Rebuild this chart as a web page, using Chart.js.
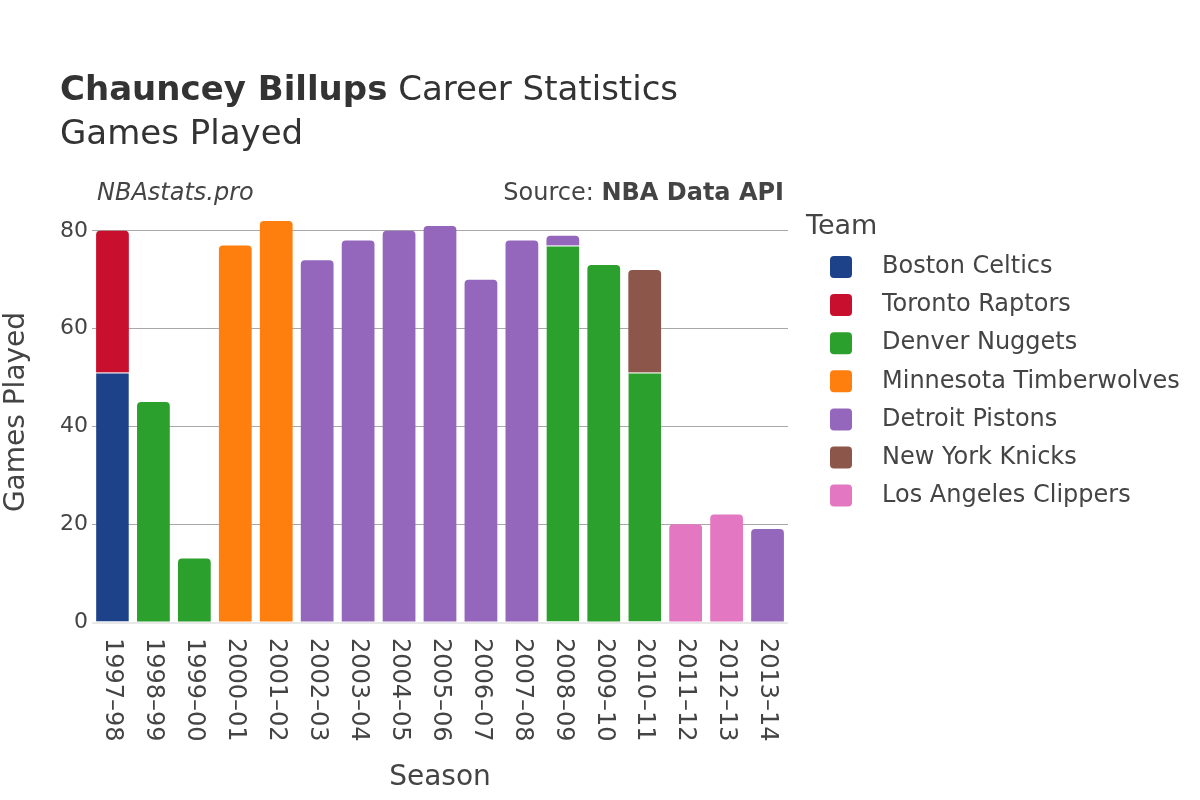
<!DOCTYPE html>
<html><head><meta charset="utf-8">
<script src="https://cdn.jsdelivr.net/npm/chart.js@4/dist/chart.umd.min.js"></script>
<style>html,body{margin:0;padding:0;background:#fff}canvas{display:block}</style>
</head><body>
<canvas id="c" width="1200" height="800"></canvas>
<script>
const seasons = ['1997–98','1998–99','1999–00','2000–01','2001–02','2002–03','2003–04','2004–05','2005–06','2006–07','2007–08','2008–09','2009–10','2010–11','2011–12','2012–13','2013–14'];
const teams = ['Boston Celtics','Toronto Raptors','Denver Nuggets','Minnesota Timberwolves','Detroit Pistons','New York Knicks','Los Angeles Clippers'];
const teamColors = ['#1d428a','#c8102e','#2ca02c','#ff7f0e','#9467bd','#8c564b','#e377c2'];
const bostonCeltics       = [51,null,null,null,null,null,null,null,null,null,null,null,null,null,null,null,null];
const torontoRaptors      = [29,null,null,null,null,null,null,null,null,null,null,null,null,null,null,null,null];
const denverNuggets       = [null,45,13,null,null,null,null,null,null,null,null,77,73,51,null,null,null];
const minnesotaTimberwolves = [null,null,null,77,82,null,null,null,null,null,null,null,null,null,null,null,null];
const detroitPistons      = [null,null,null,null,null,74,78,80,81,70,78,2,null,null,null,null,19];
const newYorkKnicks       = [null,null,null,null,null,null,null,null,null,null,null,null,null,21,null,null,null];
const losAngelesClippers  = [null,null,null,null,null,null,null,null,null,null,null,null,null,null,20,22,null];
const yTicks = [0,20,40,60,80];

const seriesValues = [bostonCeltics,torontoRaptors,denverNuggets,minnesotaTimberwolves,detroitPistons,newYorkKnicks,losAngelesClippers];
const FONT = "'DejaVu Sans', sans-serif";
const TXT = '#444';

function isTop(di, idx){
  for (let k = di+1; k < seriesValues.length; k++){
    const v = seriesValues[k][idx];
    if (v !== null && v > 0) return false;
  }
  return true;
}

const datasets = teams.map((t,i)=>({
  label: t,
  data: seriesValues[i],
  backgroundColor: teamColors[i],
  borderColor: '#ffffff',
  borderWidth: (ctx)=> isTop(ctx.datasetIndex, ctx.dataIndex) ? 0 : {top:1,left:0,right:0,bottom:0},
  borderSkipped: 'start',
  borderRadius: (ctx)=> isTop(ctx.datasetIndex, ctx.dataIndex) ? {topLeft:4,topRight:4,bottomLeft:0,bottomRight:0} : 0,
  categoryPercentage: 1.0,
  barPercentage: 0.8
}));

const textPlugin = {
  id: 'texts',
  afterDatasetsDraw(chart){
    const ctx = chart.ctx, ca = chart.chartArea;
    const ys = chart.scales.y;
    const y0 = ys.getPixelForValue(0);
    ctx.save();
    ctx.strokeStyle = '#e8e8e8';
    ctx.lineWidth = 2;
    ctx.beginPath();
    ctx.moveTo(ca.left, y0+1);
    ctx.lineTo(ca.right, y0+1);
    ctx.stroke();
    ctx.restore();
  },
  afterDraw(chart){
    const ctx = chart.ctx, ca = chart.chartArea;
    const xs = chart.scales.x;
    ctx.save();
    ctx.fillStyle = '#333';
    ctx.textBaseline = 'alphabetic';
    ctx.textAlign = 'left';
    // title
    ctx.font = "bold 34px " + FONT;
    ctx.fillText('Chauncey Billups', 60, 100);
    const w = ctx.measureText('Chauncey Billups').width;
    ctx.font = "34px " + FONT;
    ctx.fillText(' Career Statistics', 60 + w, 100);
    ctx.fillText('Games Played', 60, 144);
    // watermark / source
    ctx.fillStyle = TXT;
    ctx.font = "italic 24px " + FONT;
    ctx.fillText('NBAstats.pro', 97, 200);
    ctx.textAlign = 'right';
    ctx.font = "bold 24px " + FONT;
    ctx.fillText('NBA Data API', 784, 200);
    const bw = ctx.measureText('NBA Data API').width;
    ctx.font = "24px " + FONT;
    ctx.fillText('Source: ', 784 - bw, 200);
    // x tick labels rotated clockwise
    ctx.font = "24px " + FONT;
    ctx.textAlign = 'left';
    ctx.textBaseline = 'middle';
    seasons.forEach((s,i)=>{
      const x = xs.getPixelForValue(i);
      ctx.save();
      ctx.translate(x, ca.bottom + 16);
      ctx.rotate(Math.PI/2);
      ctx.fillText(s, 0, 0);
      ctx.restore();
    });
    // axis titles
    ctx.font = "28px " + FONT;
    ctx.textAlign = 'center';
    ctx.fillText('Season', (ca.left+ca.right)/2, 778);
    ctx.save();
    ctx.translate(17, (ca.top+ca.bottom)/2 + 1);
    ctx.rotate(-Math.PI/2);
    ctx.fillText('Games Played', 0, 0);
    ctx.restore();
    // legend
    ctx.textAlign = 'left';
    ctx.font = "27px " + FONT;
    ctx.fillText('Team', 806, 227);
    ctx.font = "24px " + FONT;
    teams.forEach((t,i)=>{
      const cy = 267 + i*38.1;
      ctx.fillStyle = teamColors[i];
      ctx.beginPath();
      ctx.roundRect(830, cy-11, 22, 22, 4);
      ctx.fill();
      ctx.fillStyle = TXT;
      ctx.fillText(t, 882, cy);
    });
    ctx.restore();
  }
};

new Chart(document.getElementById('c'), {
  type: 'bar',
  data: { labels: seasons, datasets },
  options: {
    responsive: false,
    animation: false,
    devicePixelRatio: 1,
    layout: { padding: { left: 0, right: 412, top: 200, bottom: 0 } },
    plugins: { legend: { display: false }, title: { display: false }, tooltip: { enabled: false } },
    scales: {
      x: {
        stacked: true,
        grid: { display: false },
        border: { display: false },
        ticks: { display: false },
        afterFit(scale){ scale.height = 178; }
      },
      y: {
        stacked: true,
        min: 0,
        max: 86.3,
        border: { display: false },
        grid: {
          drawTicks: false,
          color: (c)=> c.tick && c.tick.value === 0 ? 'rgba(0,0,0,0)' : '#a8a8a8',
          lineWidth: 1
        },
        ticks: {
          padding: 4,
          color: TXT,
          font: { family: FONT, size: 22 }
        },
        afterBuildTicks(scale){ scale.ticks = yTicks.map(v=>({value:v})); },
        afterFit(scale){ scale.width = 92; }
      }
    }
  },
  plugins: [textPlugin]
});
</script>
</body></html>
